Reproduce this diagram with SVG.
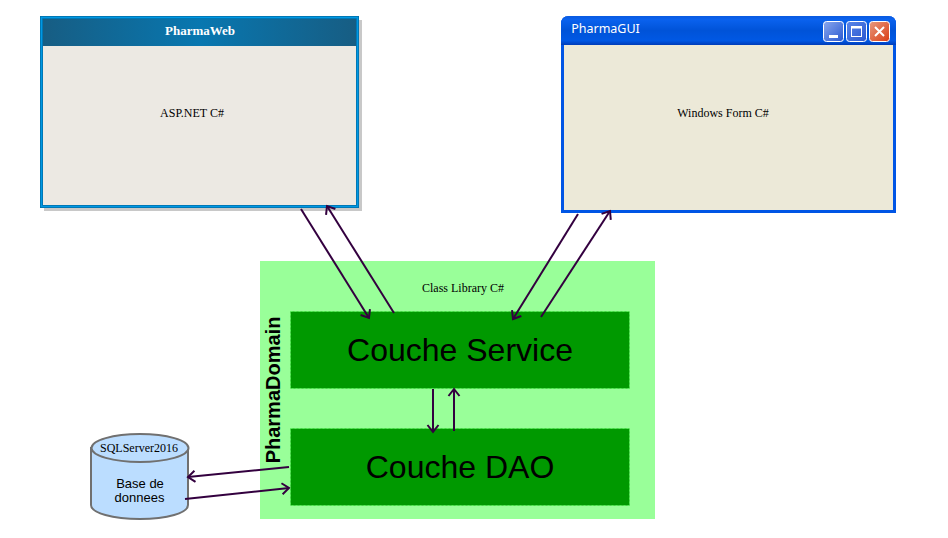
<svg xmlns="http://www.w3.org/2000/svg" width="948" height="538" viewBox="0 0 948 538">
<style>
text{font-family:"Liberation Serif","Times New Roman",serif;fill:#000;text-anchor:middle}
.sans{font-family:"Liberation Sans",Arial,sans-serif}
.layer{fill:#009900;stroke:#55ee55;stroke-width:1;stroke-dasharray:2 2}
.conn{fill:none;stroke:#33003f;stroke-width:2;marker-end:url(#open)}
.btn{stroke:#fff;stroke-width:1}
</style>
<defs>
<marker id="open" markerUnits="userSpaceOnUse" markerWidth="16" markerHeight="16" refX="11" refY="8" orient="auto">
<path d="M4 2.500L11 8L4 13.500" fill="none" stroke="#33003f" stroke-width="2"/>
</marker>
<linearGradient id="webTitle" x1="0" x2="1" y1="0" y2="0">
<stop offset="0" stop-color="#175d83"/><stop offset="0.5" stop-color="#0877b0"/><stop offset="1" stop-color="#175d83"/>
</linearGradient>
<linearGradient id="guiTitle" x1="0" x2="0" y1="0" y2="1">
<stop offset="0" stop-color="#0a5ae0"/><stop offset="0.12" stop-color="#0a62ee"/><stop offset="0.5" stop-color="#0053d8"/><stop offset="0.85" stop-color="#0058e4"/><stop offset="1" stop-color="#003cb8"/>
</linearGradient>
<linearGradient id="btnBlue" x1="0" x2="1" y1="0" y2="1">
<stop offset="0" stop-color="#8aa8ee"/><stop offset="1" stop-color="#2a58d0"/>
</linearGradient>
<linearGradient id="btnBlue2" x1="0" x2="1" y1="0" y2="1">
<stop offset="0" stop-color="#5a86e8"/><stop offset="1" stop-color="#2a58d0"/>
</linearGradient>
<linearGradient id="btnRed" x1="0" x2="1" y1="0" y2="1">
<stop offset="0" stop-color="#e69a80"/><stop offset="1" stop-color="#db3c12"/>
</linearGradient>
</defs>

<g id="PharmaDomain">
<rect x="260" y="261" width="395" height="258" fill="#99ff99"/>
<text x="463" y="292" font-size="12">Class Library C#</text>
<text class="sans" transform="translate(280 390) rotate(-90)" font-size="20" font-weight="bold">PharmaDomain</text>
</g>
<g id="CoucheService">
<rect class="layer" x="290.500" y="311.500" width="339" height="77"/>
<text class="sans" x="460" y="361" font-size="32">Couche Service</text>
</g>
<g id="CoucheDAO">
<rect class="layer" x="290.500" y="428.500" width="339" height="77"/>
<text class="sans" x="460" y="478" font-size="32">Couche DAO</text>
</g>

<g id="PharmaWeb">
<rect x="44" y="20" width="318" height="191" fill="#c8c8c8"/>
<rect x="40" y="16" width="319" height="192" fill="#006ea6"/>
<rect x="41.500" y="17.500" width="316" height="189" fill="none" stroke="#0098e4" stroke-width="1.500"/>
<rect x="43" y="19" width="313" height="27" fill="url(#webTitle)"/>
<rect x="43" y="46" width="313" height="159" fill="#ece9e3"/>
<text x="200" y="35" font-size="13" font-weight="bold" style="fill:#fff">PharmaWeb</text>
<text x="192" y="117" font-size="12">ASP.NET C#</text>
</g>

<g id="PharmaGUI">
<path d="M561 213V24Q561 16 569 16H888Q896 16 896 24V213Z" fill="#0055e5"/>
<path d="M561 45V24Q561 16 569 16H888Q896 16 896 24V45Z" fill="url(#guiTitle)"/>
<rect x="564" y="45" width="329" height="165" fill="#ece9d8"/>
<text class="sans" x="605.500" y="33" font-size="12.500" style="font-family:'Noto Sans','Liberation Sans',sans-serif;fill:#fff">PharmaGUI</text>
<rect class="btn" x="823.500" y="21.500" width="20" height="20" rx="3" fill="url(#btnBlue)"/>
<rect x="829" y="35" width="9" height="3" fill="#fff"/>
<rect class="btn" x="846.500" y="21.500" width="20" height="20" rx="3" fill="url(#btnBlue2)"/>
<rect x="851.500" y="26.500" width="10" height="10" fill="none" stroke="#fff"/>
<rect x="851.500" y="26" width="10" height="2.500" fill="#fff"/>
<rect class="btn" x="869.500" y="21.500" width="20" height="20" rx="3" fill="url(#btnRed)"/>
<path d="M875 27L884 36M884 27L875 36" stroke="#fff" stroke-width="2" fill="none"/>
<text x="723" y="117" font-size="12">Windows Form C#</text>
</g>

<g id="BaseDeDonnees">
<path d="M91 448V505C91 513 113 519 140 519C167 519 188 513 188 505V448Z" fill="#bbddff" stroke="#707070" stroke-width="2"/>
<ellipse cx="140" cy="448" rx="48.500" ry="14" fill="#bbddff" stroke="#707070" stroke-width="2"/>
<text x="139" y="452" font-size="12">SQLServer2016</text>
<text class="sans" x="140" y="488" font-size="13">Base de</text>
<text class="sans" x="139.500" y="502" font-size="13">donnees</text>
</g>

<g id="connectors">
<line class="conn" x1="301" y1="209" x2="369" y2="318"/>
<line class="conn" x1="394" y1="313" x2="327" y2="206"/>
<line class="conn" x1="578" y1="214" x2="513" y2="319"/>
<line class="conn" x1="541" y1="317" x2="610" y2="211"/>
<line class="conn" x1="433" y1="389" x2="433" y2="432"/>
<line class="conn" x1="454" y1="431" x2="454" y2="389"/>
<line class="conn" x1="289" y1="467" x2="188" y2="477"/>
<line class="conn" x1="185" y1="499" x2="289" y2="488"/>
</g>
</svg>
